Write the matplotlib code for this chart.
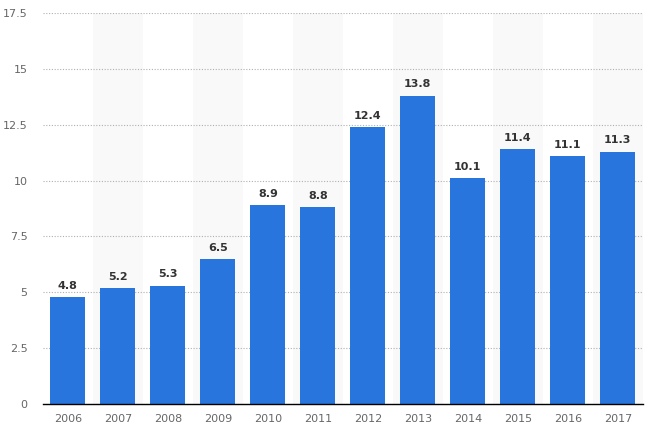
import matplotlib
matplotlib.use('Agg')
import matplotlib.pyplot as plt
import numpy as np

years = ['2006', '2007', '2008', '2009', '2010', '2011',
         '2012', '2013', '2014', '2015', '2016', '2017']
values = [4.8, 5.2, 5.3, 6.5, 8.9, 8.8, 12.4, 13.8, 10.1, 11.4, 11.1, 11.3]
y_ticks = [0, 2.5, 5, 7.5, 10, 12.5, 15, 17.5]
y_tick_labels = ['0', '2.5', '5', '7.5', '10', '12.5', '15', '17.5']

fig = plt.figure(figsize=(6.6, 4.43), dpi=100)
ax = fig.add_axes([0.065, 0.088, 0.909, 0.8827])

x = np.arange(len(years))

# alternating column shading
for i in x:
    if i % 2 == 1:
        ax.axvspan(i - 0.5, i + 0.5, color='#f9f9f9', zorder=0, lw=0)

ax.set_ylim(0, 17.5)
ax.set_xlim(-0.5, len(years) - 0.5)
ax.set_yticks(y_ticks)
ax.set_yticklabels(y_tick_labels)
ax.yaxis.grid(True, linestyle=(0, (1, 1.5)), color='#b0b0b0', linewidth=0.8, zorder=1)
ax.set_axisbelow(True)

bars = ax.bar(x, values, width=0.7, color='#2876dd', zorder=2)
for xi, v in zip(x, values):
    ax.annotate(f'{v:.1f}', (xi, v), xytext=(0, 4.5), textcoords='offset points',
                ha='center', va='bottom', fontsize=8, fontweight='bold',
                color='#333333')

ax.set_xticks(x)
ax.set_xticklabels(years)
ax.tick_params(axis='both', length=0, labelsize=8, colors='#666666')
ax.tick_params(axis='x', pad=7)
ax.tick_params(axis='y', pad=11)

for s in ['top', 'right', 'left']:
    ax.spines[s].set_visible(False)
ax.spines['bottom'].set_color('#000000')
ax.spines['bottom'].set_linewidth(1)
ax.spines['bottom'].set_zorder(3)

fig.savefig('out.png', dpi=100)
